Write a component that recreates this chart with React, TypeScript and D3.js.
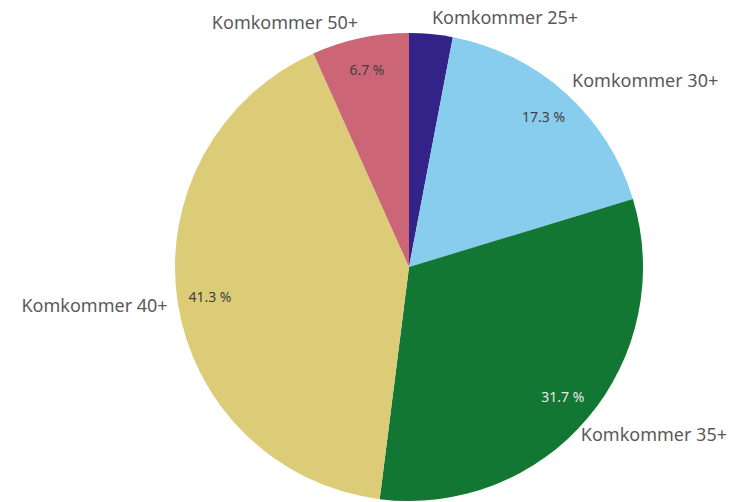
import * as d3 from "d3";
import { useEffect, useRef } from "react";

const categories = [
  "Komkommer 25+",
  "Komkommer 30+",
  "Komkommer 35+",
  "Komkommer 40+",
  "Komkommer 50+",
];
const shares = [3.0, 17.3, 31.7, 41.3, 6.7];
const colors = ["#332288", "#88ccee", "#117733", "#ddcc77", "#cc6677"];
const pctTextColors = ["#f0f0f0", "#404040", "#e8e8e8", "#404040", "#404040"];

const WIDTH = 734;
const HEIGHT = 502;

export default function App() {
  const svgRef = useRef<SVGSVGElement>(null);

  useEffect(() => {
    if (!svgRef.current) return;
    const root = d3.select(svgRef.current);
    root.selectAll("*").remove();

    const cx = 409;
    const cy = 267;
    const radius = 234;

    const svg = root
      .attr("width", WIDTH)
      .attr("height", HEIGHT)
      .append("g")
      .attr("transform", `translate(${cx},${cy})`);

    const data = categories.map((c, i) => ({ name: c, value: shares[i], i }));
    const pie = d3
      .pie<{ name: string; value: number; i: number }>()
      .sort(null)
      .value((d) => d.value);
    const arcs = pie(data);

    const arc = d3
      .arc<d3.PieArcDatum<{ name: string; value: number; i: number }>>()
      .innerRadius(0)
      .outerRadius(radius);

    // Slices
    svg
      .selectAll(".slice")
      .data(arcs)
      .enter()
      .append("path")
      .attr("class", "slice")
      .attr("d", arc)
      .attr("fill", (d) => colors[d.data.i]);

    // Percent labels inside slices (skip tiny ones)
    const inner = d3
      .arc<d3.PieArcDatum<{ name: string; value: number; i: number }>>()
      .innerRadius(radius * 0.86)
      .outerRadius(radius * 0.86);

    svg
      .selectAll(".pct")
      .data(arcs.filter((d) => d.data.value >= 5))
      .enter()
      .append("text")
      .attr("class", "pct")
      .attr("transform", (d) => `translate(${inner.centroid(d)})`)
      .attr("text-anchor", "middle")
      .attr("dy", "0.35em")
      .style("font-family", "'Noto Sans', sans-serif")
      .style("font-size", "14px")
      .style("fill", (d) => pctTextColors[d.data.i])
      .text((d) => `${d.data.value.toFixed(1)} %`);

    // Category labels outside the pie
    const labelR = radius + 10;
    const fontSize = 18;
    const edgePad = 7;
    svg
      .selectAll(".label")
      .data(arcs)
      .enter()
      .append("text")
      .attr("class", "label")
      .style("font-family", "'Noto Sans', sans-serif")
      .style("font-size", `${fontSize}px`)
      .style("fill", "#595959")
      .text((d) => d.data.name)
      .each(function (d) {
        const a = (d.startAngle + d.endAngle) / 2;
        const sx = Math.sin(a);
        const cyv = Math.cos(a);
        let px = sx * labelR;
        const py = -cyv * labelR;
        const centerY = py - cyv * (cyv > 0 ? 6 : 16);
        const w = (this as SVGTextElement).getComputedTextLength();
        // keep labels inside the chart area
        if (sx >= 0) px = Math.min(px, WIDTH - cx - edgePad - w);
        else px = Math.max(px, -cx + edgePad + w);
        d3.select(this)
          .attr("x", px)
          .attr("y", centerY)
          .attr("dy", "0.35em")
          .attr("text-anchor", sx >= 0 ? "start" : "end");
      });
  }, []);

  return (
    <div style={{ position: "absolute", left: 0, top: 0, width: WIDTH, height: HEIGHT }}>
      <svg ref={svgRef} style={{ display: "block" }} />
    </div>
  );
}
